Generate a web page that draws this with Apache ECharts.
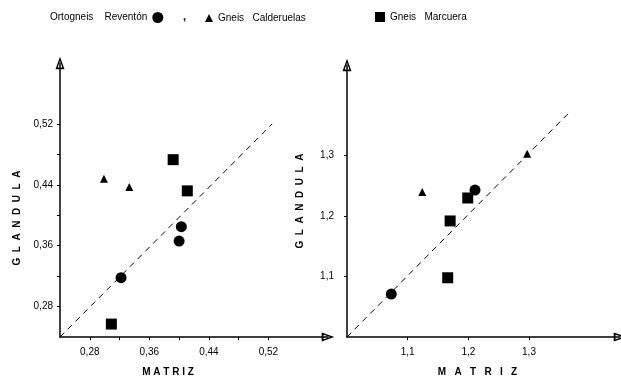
<!DOCTYPE html>
<html>
<head>
<meta charset="utf-8">
<script src="https://cdn.jsdelivr.net/npm/echarts@6/dist/echarts.min.js"></script>
<style>
  html, body { margin: 0; padding: 0; background: #fff; }
  #chart { width: 621px; height: 383px; }
</style>
</head>
<body>
<div id="chart"></div>
<script>
// --- data ---
var names = ['Ortogneis    Reventón', 'Gneis   Calderuelas', 'Gneis   Marcuera'];

// left panel (0.24 .. 0.60)
var revLeft = [[0.403, 0.385], [0.400, 0.366], [0.322, 0.318]];
var calLeft = [[0.299, 0.448], [0.333, 0.437]];
var marLeft = [[0.392, 0.473], [0.411, 0.432], [0.309, 0.257]];
var diagLeft = [[0.24, 0.24], [0.525, 0.52]];
var ticksLeft = [0.28, 0.32, 0.36, 0.40, 0.44, 0.48, 0.52];
var labelsLeft = [0.28, 0.36, 0.44, 0.52];

// right panel (1.0 .. 1.45)
var revRight = [[1.211, 1.243], [1.073, 1.071]];
var calRight = [[1.124, 1.240], [1.297, 1.303]];
var marRight = [[1.199, 1.230], [1.170, 1.192], [1.166, 1.098]];
var diagRight = [[1.0, 1.0], [1.365, 1.37]];
var ticksRight = [1.1, 1.2, 1.3];

var font = 'Liberation Sans';
// hollow arrow head (outer triangle + reversed inner one)
var arrow = 'path://M5,0 L10,14 L0,14 Z M5,4.5 L2.4,12 L7.6,12 Z';

function comma(v) { return String(v.toFixed(2)).replace('.', ','); }
function comma1(v) { return String(v.toFixed(1)).replace('.', ','); }

function axis(opt) {
  var base = {
    type: 'value',
    splitLine: { show: false },
    axisLine: { show: true, symbol: ['none', arrow], symbolSize: [9, 13], lineStyle: { color: '#000', width: 1.5 } },
    axisTick: { show: true, length: 3, lineStyle: { color: '#000' } },
    axisLabel: { color: '#000', fontFamily: font, fontSize: 10 },
    nameLocation: 'middle',
    nameTextStyle: { color: '#000', fontFamily: font, fontSize: 10, fontWeight: 'bold' }
  };
  for (var k in opt) {
    if (typeof opt[k] === 'object' && !Array.isArray(opt[k]) && base[k]) {
      for (var j in opt[k]) base[k][j] = opt[k][j];
    } else base[k] = opt[k];
  }
  return base;
}

function scatter(name, sym, size, data, idx) {
  return {
    type: 'scatter', name: name, symbol: sym, symbolSize: size,
    xAxisIndex: idx, yAxisIndex: idx, data: data,
    itemStyle: { color: '#000', opacity: 1 }
  };
}

function diag(data, idx) {
  return {
    type: 'line', name: 'diag', data: data, xAxisIndex: idx, yAxisIndex: idx,
    showSymbol: false, silent: true,
    lineStyle: { color: '#000', width: 1, type: [6, 5] }
  };
}

var myChart = echarts.init(document.getElementById('chart'));

var option = {
  animation: false,
  backgroundColor: '#fff',
  title: { text: ',', left: 178, top: 6, textStyle: { fontSize: 11, fontFamily: font, color: '#000' } },
  legend: [
    { data: [names[0]], left: 45, top: 7, align: 'right', icon: 'circle', itemWidth: 11, itemHeight: 11,
      textStyle: { color: '#000', fontFamily: font, fontSize: 10 } },
    { data: [names[1]], left: 200, top: 8, icon: 'triangle', itemWidth: 8, itemHeight: 8,
      textStyle: { color: '#000', fontFamily: font, fontSize: 10 } },
    { data: [names[2]], left: 370, top: 7, icon: 'rect', itemWidth: 10, itemHeight: 10,
      textStyle: { color: '#000', fontFamily: font, fontSize: 10 } }
  ],
  grid: [
    { left: 60, top: 63, width: 268, height: 274 },
    { left: 347, top: 65, width: 273, height: 272 }
  ],
  xAxis: [
    axis({ gridIndex: 0, min: 0.24, max: 0.60,
      name: 'M A T R I Z', nameGap: 30,
      nameTextStyle: { padding: [0, 52, 0, 0] },
      axisTick: { customValues: ticksLeft },
      axisLabel: { customValues: labelsLeft, formatter: comma, margin: 10 } }),
    axis({ gridIndex: 1, min: 1.0, max: 1.45,
      name: 'M   A   T   R   I   Z', nameGap: 30,
      nameTextStyle: { padding: [0, 12, 0, 0] },
      axisTick: { customValues: ticksRight },
      axisLabel: { customValues: ticksRight, formatter: comma1, margin: 10 } })
  ],
  yAxis: [
    axis({ gridIndex: 0, min: 0.24, max: 0.60,
      name: 'G  L  A  N  D  U  L  A', nameGap: 38,
      nameTextStyle: { padding: [0, 36, 0, 0] },
      axisTick: { customValues: ticksLeft },
      axisLabel: { customValues: labelsLeft, formatter: comma, margin: 7 } }),
    axis({ gridIndex: 1, min: 1.0, max: 1.45,
      name: 'G  L  A  N  D  U  L  A', nameGap: 42,
      axisTick: { customValues: ticksRight },
      axisLabel: { customValues: ticksRight, formatter: comma1, margin: 13 } })
  ],
  series: [
    diag(diagLeft, 0),
    diag(diagRight, 1),
    scatter(names[0], 'circle', 11, revLeft, 0),
    scatter(names[1], 'triangle', 8, calLeft, 0),
    scatter(names[2], 'rect', 11, marLeft, 0),
    scatter(names[0], 'circle', 11, revRight, 1),
    scatter(names[1], 'triangle', 8, calRight, 1),
    scatter(names[2], 'rect', 11, marRight, 1)
  ]
};

myChart.setOption(option, true);
</script>
</body>
</html>
